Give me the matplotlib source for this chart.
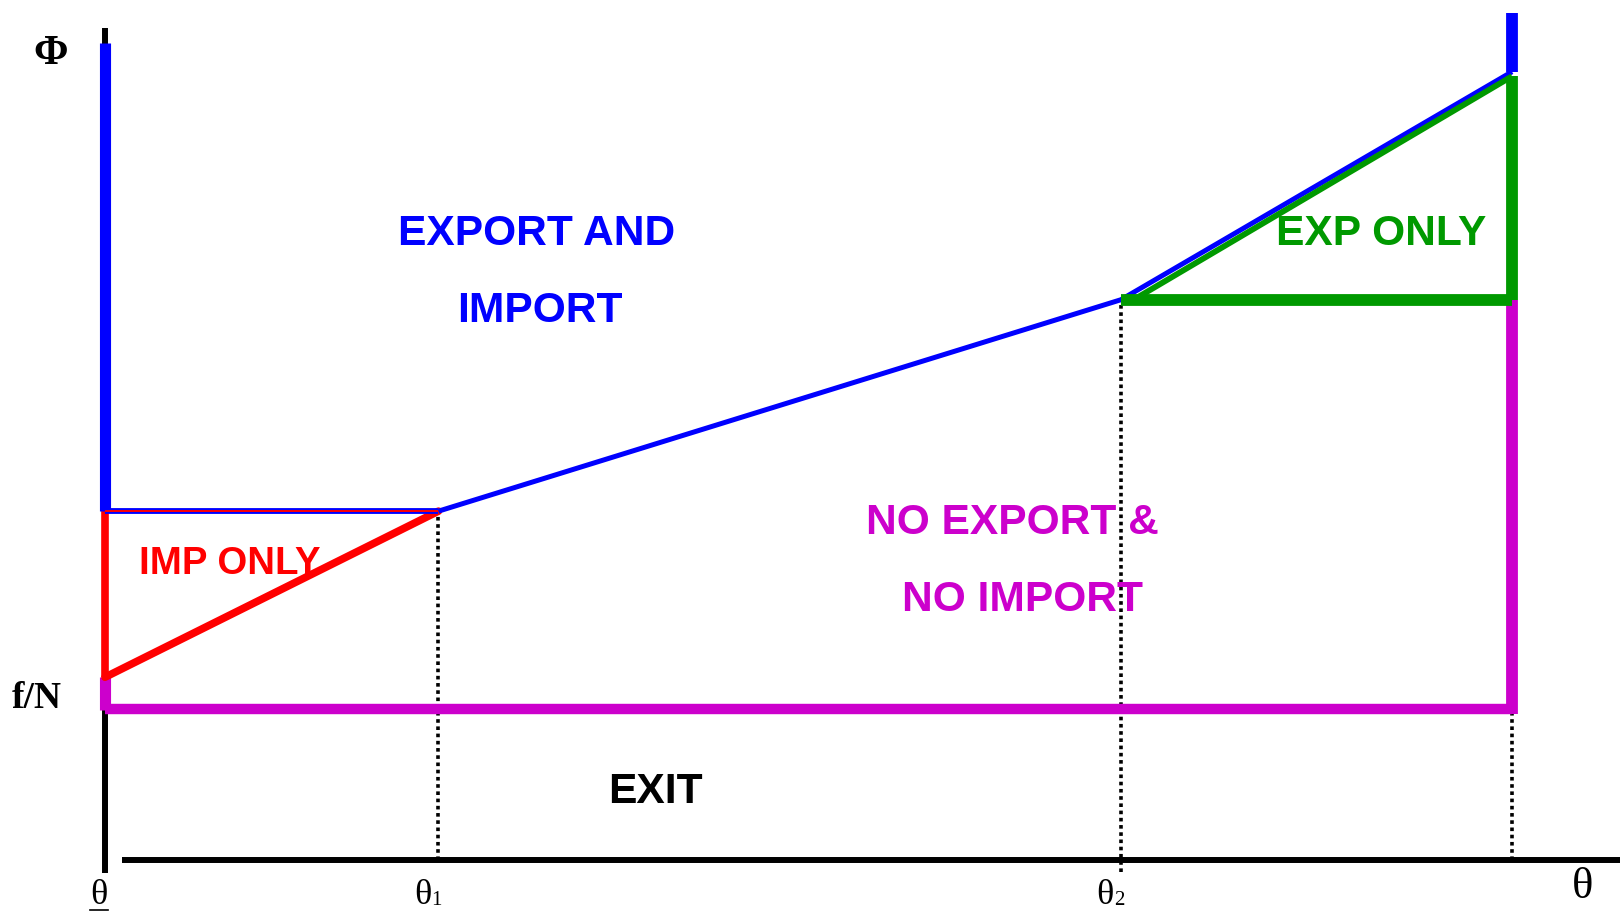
import matplotlib.pyplot as plt

# region boundaries on the theta axis
theta_low = 0.0
theta_1 = 2.37
theta_2 = 7.22
theta_high = 10.0

# heights of the boundary lines
fN = 1.0
red_low = 1.21
phi_low = 2.31
phi_mid = 3.71
phi_high = 5.22
green_high = 5.19
green_start = 7.31
blue_left_top = 5.41
blue_right_top = 5.61
axis_top = 5.51
axis_bottom = -0.086

BLUE = '#0000FF'
RED = '#FF0000'
MAGENTA = '#CC00CC'
GREEN = '#009900'

plt.rcParams['font.family'] = ['Liberation Sans', 'DejaVu Sans']

fig = plt.figure(figsize=(16.2, 9.11), dpi=100)
ax = fig.add_axes([0, 0, 1, 1])
ax.set_xlim(-0.746, 10.767)
ax.set_ylim(-0.338, 5.695)
ax.axis('off')

# axes drawn by hand
ax.plot([theta_low, theta_low], [axis_bottom, axis_top], color='black', lw=4.3, solid_capstyle='butt')
ax.plot([0.12, 10.8], [0, 0], color='black', lw=4.3, solid_capstyle='butt')

# dotted guides
dots = dict(color='black', lw=2.6, linestyle=(0, (1.0, 1.0)))
ax.plot([theta_1, theta_1], [0, phi_low], **dots)
ax.plot([theta_2, theta_2], [-0.08, phi_mid], **dots)
ax.plot([theta_high, theta_high], [0, fN], **dots)

# no export & no import (magenta)
ax.plot([theta_low, theta_high], [fN, fN], color=MAGENTA, lw=7.5, solid_capstyle='butt')
ax.plot([theta_high, theta_high], [fN - 0.035, phi_mid], color=MAGENTA, lw=8.5, solid_capstyle='butt')
ax.plot([theta_low, theta_low], [fN - 0.01, red_low], color=MAGENTA, lw=8, solid_capstyle='butt')

# import only (red)
ax.plot([theta_low, theta_low], [red_low, phi_low], color=RED, lw=5.5, solid_capstyle='butt')
ax.plot([theta_low, theta_1], [red_low, phi_low], color=RED, lw=5.5, solid_capstyle='round')

# export and import frontier (blue)
ax.plot([theta_low, theta_low], [phi_low, blue_left_top], color=BLUE, lw=8, solid_capstyle='butt')
ax.plot([theta_low, theta_1], [phi_low, phi_low], color=BLUE, lw=4.2, solid_capstyle='butt')
ax.plot([theta_low, theta_1], [phi_low, phi_low], color=RED, lw=1.4, solid_capstyle='butt')
ax.plot([theta_1, theta_2, theta_high], [phi_low, phi_mid, phi_high], color=BLUE, lw=3.6,
        solid_capstyle='butt')
ax.plot([theta_high, theta_high], [phi_high, blue_right_top], color=BLUE, lw=8.5, solid_capstyle='butt')

# export only (green)
ax.plot([theta_2, theta_high], [phi_mid, phi_mid], color=GREEN, lw=8.5, solid_capstyle='butt')
ax.plot([green_start, theta_high], [phi_mid, green_high], color=GREEN, lw=4.2, solid_capstyle='butt')
ax.plot([theta_high, theta_high], [phi_mid, green_high], color=GREEN, lw=8.5, solid_capstyle='butt')

# region names
big = dict(fontsize=30.6, fontweight='bold', ha='center', va='center')
ax.text(3.07, 4.143, 'EXPORT AND', color=BLUE, **big)
ax.text(3.09, 3.633, 'IMPORT', color=BLUE, **big)
ax.text(9.07, 4.143, 'EXP ONLY', color=GREEN, **big)
ax.text(6.45, 2.233, 'NO EXPORT &', color=MAGENTA, **big)
ax.text(6.52, 1.723, 'NO IMPORT', color=MAGENTA, **big)
ax.text(3.91, 0.453, 'EXIT', color='black', **big)
ax.text(0.89, 1.963, 'IMP ONLY', color=RED, fontsize=27.6, fontweight='bold', ha='center', va='center')

# axis symbols in serif
serif = ['Liberation Serif', 'DejaVu Serif']
ax.text(-0.384, 5.34, 'Φ', family=serif, fontsize=30, fontweight='bold', ha='center', va='center')
ax.text(-0.483, 1.07, 'f/N', family=serif, fontsize=27, fontweight='bold', ha='center', va='center')
ax.text(10.5, -0.18, 'θ', family=serif, fontsize=32, ha='center', va='center')
ax.text(-0.04, -0.235, 'θ', family=serif, fontsize=26, ha='center', va='center')
ax.plot([-0.105, 0.02], [-0.333, -0.333], color='black', lw=1.2)
for pos, sub in [(theta_1, '1'), (theta_2, '2')]:
    ax.text(pos - 0.11, -0.235, 'θ', family=serif, fontsize=26, ha='center', va='center')
    ax.text(pos - 0.05, -0.27, sub, family=serif, fontsize=15, ha='left', va='center')

fig.savefig('out.png', dpi=100)
